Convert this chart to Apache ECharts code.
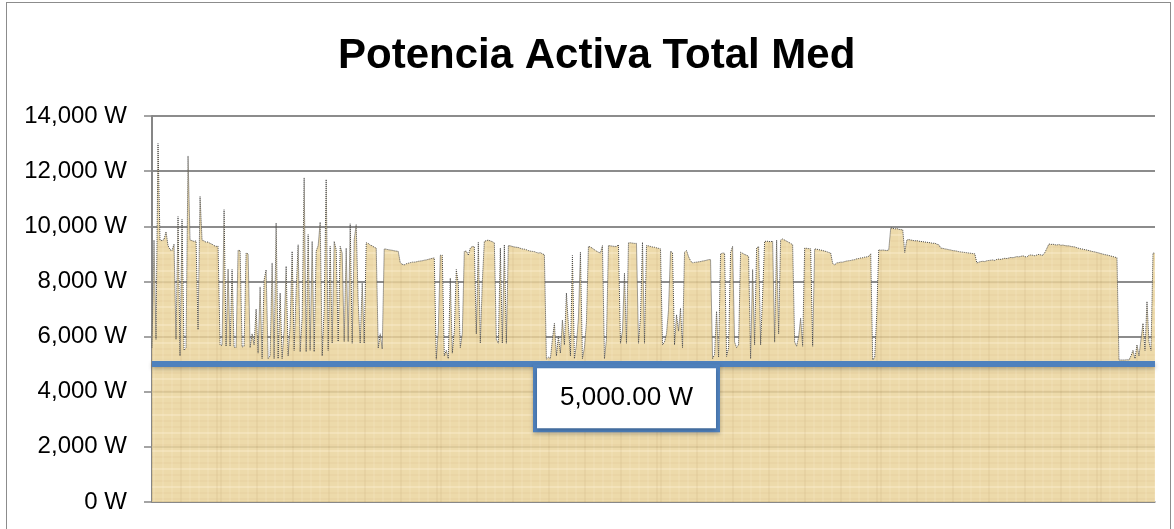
<!DOCTYPE html>
<html>
<head>
<meta charset="utf-8">
<script src="https://cdn.jsdelivr.net/npm/echarts@6/dist/echarts.min.js"></script>
<style>
html,body{margin:0;padding:0;background:#fff;}
#chart{position:absolute;left:0;top:0;width:1174px;height:529px;}
#frame{position:absolute;left:6px;top:2px;width:1163px;height:540px;border:1px solid #8c8c8c;pointer-events:none;}
</style>
</head>
<body>
<div id="chart"></div>
<div id="frame"></div>
<script>
const chartTitle = 'Potencia Activa Total Med';

// Active power samples (W), in time order
const power = [
  5600, 9500, 5900, 13000, 9500, 9480, 9520, 9800, 9300, 9150,
  9120, 9350, 5900, 10350, 5300, 10250, 5500, 5600, 12550, 9500,
  9480, 9450, 9470, 6250, 11080, 9500, 9470, 9420, 9430, 9380,
  9350, 9300, 9270, 9280, 5700, 5680, 10600, 5650, 8450, 5650,
  8430, 5620, 5600, 9130, 9120, 5620, 5650, 9030, 9000, 5600,
  6100, 5700, 7000, 5400, 7800, 5200, 8050, 8420, 5200, 5300,
  8670, 5200, 10120, 5200, 7580, 5200, 6250, 8550, 5300, 6400,
  9090, 5500, 7700, 9330, 5450, 6700, 11760, 5450, 9700, 5500,
  9450, 5450, 9100, 9300, 10150, 5300, 7000, 11700, 5500, 9270,
  5760, 9450, 9150, 5820, 9270, 9030, 5820, 9210, 5820, 10090,
  5760, 9520, 10060, 7210, 5760, 7940, 5760, 9400, 9380, 9320,
  9290, 9240, 9210, 5580, 6100, 5550, 9180, 9170, 9150, 9140,
  9130, 9110, 9100, 9090, 8680, 8620, 8600, 8640, 8660, 8680,
  8700, 8700, 8710, 8730, 8740, 8750, 8770, 8780, 8800, 8820,
  8840, 8850, 5180, 6200, 8950, 8950, 5300, 5500, 5200, 8120,
  5400, 6200, 8430, 7900, 5600, 6100, 9090, 9100, 8950, 9210,
  9270, 9260, 6100, 9420, 5760, 8000, 9450, 9480, 9500, 9470,
  9440, 9400, 5900, 5760, 9210, 5760, 9330, 5760, 9300, 9290,
  9270, 9250, 9240, 9230, 9200, 9180, 9170, 9150, 9120, 9100,
  9090, 9080, 9050, 9030, 9040, 9000, 8970, 5180, 5250, 5200,
  5900, 6480, 5300, 6000, 5400, 6600, 5700, 7580, 6400, 5300,
  8940, 5200, 5700, 6670, 9060, 5200, 5600, 6500, 9270, 9250,
  9200, 9150, 9100, 9060, 9030, 9300, 5200, 5900, 9300, 9290,
  9280, 9270, 9270, 9330, 5760, 6200, 8300, 5760, 9400, 9400,
  9390, 9380, 9380, 5760, 6700, 9420, 5760, 9300, 9290, 9270,
  9250, 9240, 9220, 9200, 9180, 5700, 5800, 6100, 6970, 9090,
  9050, 5700, 6790, 6200, 7030, 5600, 9060, 9120, 8900, 8750,
  8670, 8690, 8700, 8710, 8720, 8740, 8750, 8770, 8790, 8790,
  5200, 5350, 6910, 5250, 9000, 9030, 9020, 5280, 5600, 9060,
  9270, 5800, 5600, 5700, 9060, 9020, 8980, 8950, 8910, 5200,
  8430, 5700, 9210, 9270, 5700, 7500, 9450, 9460, 9450, 9440,
  9460, 5800, 9500, 6100, 9500, 9540, 9500, 9460, 9420, 9380,
  9330, 5800, 5650, 6000, 6670, 5650, 9210, 9200, 9190, 9180,
  5650, 9180, 9170, 9150, 9140, 9120, 9100, 9080, 9050, 9030,
  8650, 8600, 8670, 8680, 8700, 8700, 8720, 8740, 8750, 8760,
  8780, 8790, 8820, 8830, 8850, 8860, 8880, 8890, 8910, 9000,
  5150, 5250, 6800, 9150, 9130, 9140, 9130, 9120, 9140, 9940,
  9930, 9900, 9920, 9890, 9880, 9870, 9050, 9500, 9520, 9500,
  9490, 9470, 9480, 9460, 9450, 9440, 9430, 9420, 9410, 9400,
  9380, 9390, 9350, 9330, 9210, 9200, 9180, 9170, 9150, 9140,
  9120, 9110, 9100, 9080, 9070, 9060, 9050, 9040, 9030, 9020,
  9010, 9000, 8670, 8700, 8720, 8730, 8720, 8750, 8760, 8770,
  8780, 8760, 8800, 8810, 8800, 8820, 8840, 8830, 8850, 8870,
  8860, 8880, 8900, 8890, 8910, 8930, 8900, 8880, 8950, 8960,
  8950, 8930, 8960, 8980, 8960, 8950, 9050, 9200, 9360, 9340,
  9350, 9330, 9320, 9340, 9310, 9320, 9300, 9290, 9290, 9270,
  9260, 9250, 9220, 9200, 9180, 9170, 9150, 9140, 9120, 9100,
  9080, 9070, 9050, 9030, 9010, 8990, 8970, 8960, 8940, 8920,
  8900, 8880, 8860, 5150, 5150, 5150, 5150, 5160, 5150, 5300,
  5500, 5200, 5700, 5300, 5900, 6480, 5500, 7270, 5800, 5500,
  9030, 9020
];

// sample positions (time order)
const categories = power.map((_, i) => String(i));

// y axis ticks
const yMin = 0;
const yMax = 14000;
const yStep = 2000;

// reference line
const referenceValue = 5000;
const referenceLabel = '5,000.00 W';

// papyrus-like texture for the filled area
function makeTexture() {
  const c = document.createElement('canvas');
  c.width = 220; c.height = 180;
  const ctx = c.getContext('2d');
  ctx.fillStyle = '#EBD49C';
  ctx.fillRect(0, 0, c.width, c.height);
  for (let y = 0; y < c.height; y += 6) {
    ctx.fillStyle = (y / 6) % 3 === 0 ? 'rgba(255,242,208,0.35)' : 'rgba(205,175,115,0.12)';
    ctx.fillRect(0, y, c.width, 2);
  }
  for (let x = 0; x < c.width; x += 9) {
    ctx.fillStyle = (x / 9) % 4 === 0 ? 'rgba(175,145,90,0.13)' : 'rgba(255,244,214,0.14)';
    ctx.fillRect(x, 0, 2, c.height);
  }
  return c;
}

const font = "'Liberation Sans', Arial, sans-serif";
const chart = echarts.init(document.getElementById('chart'), null, { renderer: 'canvas' });

chart.setOption({
  backgroundColor: '#ffffff',
  animation: false,
  title: {
    text: chartTitle,
    left: 333,
    top: 30,
    textStyle: { fontFamily: font, fontSize: 42, fontWeight: 'bold', color: '#000' }
  },
  grid: { left: 152, right: 19, top: 116, bottom: 27, containLabel: false },
  xAxis: {
    type: 'category',
    data: categories,
    boundaryGap: false,
    axisLine: { show: true, lineStyle: { color: '#868686', width: 1.5 } },
    axisTick: { show: false },
    axisLabel: { show: false },
    splitLine: { show: false }
  },
  yAxis: {
    type: 'value',
    min: yMin,
    max: yMax,
    interval: yStep,
    axisLine: { show: true, lineStyle: { color: '#868686', width: 2 } },
    axisTick: { show: true, length: 8, lineStyle: { color: '#868686', width: 1.5 } },
    axisLabel: {
      margin: 25,
      fontFamily: font,
      fontSize: 24,
      color: '#000',
      formatter: v => v.toLocaleString('en-US') + ' W'
    },
    splitLine: { show: true, lineStyle: { color: '#8c8c8c', width: 2 } }
  },
  series: [{
    type: 'line',
    data: power,
    showSymbol: false,
    symbol: 'none',
    sampling: null,
    lineStyle: { color: '#4a4a4a', width: 1, type: 'dotted' },
    areaStyle: { color: { image: makeTexture(), repeat: 'repeat' }, opacity: 0.86 },
    markLine: {
      silent: true,
      symbol: 'none',
      animation: false,
      data: [{ yAxis: referenceValue }],
      lineStyle: { color: '#4F81BD', width: 6, type: 'solid', shadowColor: 'rgba(0,0,0,0.25)', shadowBlur: 4, shadowOffsetY: 2 },
      emphasis: { disabled: true },
      label: {
        show: true,
        position: 'insideMiddleBottom',
        distance: 4,
        offset: [-27, 0],
        formatter: referenceLabel,
        fontFamily: font,
        fontSize: 26,
        lineHeight: 30,
        color: '#000',
        backgroundColor: '#ffffff',
        borderColor: '#4F81BD',
        borderWidth: 4,
        padding: [15, 23],
        shadowColor: 'rgba(0,0,0,0.25)',
        shadowBlur: 4,
        shadowOffsetY: 2
      }
    }
  }]
});
</script>
</body>
</html>
